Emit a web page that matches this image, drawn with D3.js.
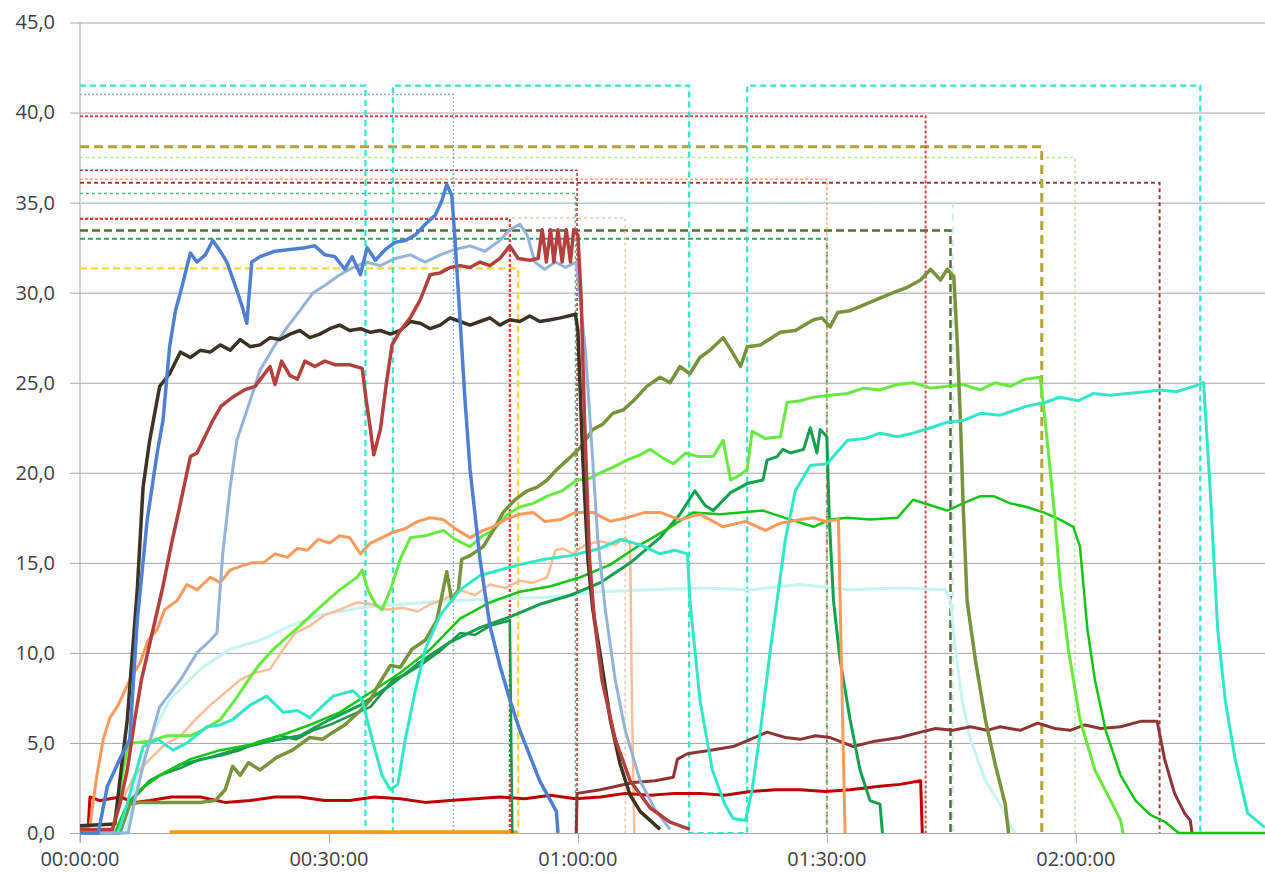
<!DOCTYPE html>
<html>
<head>
<meta charset="utf-8">
<script src="https://cdn.jsdelivr.net/npm/d3@7"></script>
<style>
  body { margin: 0; background: #fff; }
  text { font-family: "Open Sans", sans-serif; }
</style>
</head>
<body>
<svg width="1265" height="875"></svg>
<script>
// time in minutes, value

var yTicks = [0, 5, 10, 15, 20, 25, 30, 35, 40, 45];
var xTicks = [0, 30, 60, 90, 120];
var xTickLabels = ["00:00:00", "00:30:00", "01:00:00", "01:30:00", "02:00:00"];

// set points (dashed)
var spCyan = [[0,41.5],[34.4,41.5],[34.4,0],[37.7,0],[37.7,41.5],[73.4,41.5],[73.4,0],[80.4,0],[80.4,41.5],[135.0,41.5],[135.0,0]];
var spBlue = [[0,41.0],[45.0,41.0],[45.0,0]];
var spRed1 = [[0,39.8],[101.9,39.8],[101.9,0]];
var spOliveYellow = [[0,38.1],[115.9,38.1],[115.9,0]];
var spLightGreen = [[0,37.5],[119.9,37.5],[119.9,0]];
var spMaroonDot = [[0,36.8],[59.9,36.8],[59.9,0]];
var spOrangeDot = [[0,36.3],[90.0,36.3],[90.0,0]];
var spMaroonDash = [[0,36.1],[130.1,36.1],[130.1,0]];
var spGreenDot = [[0,35.5],[59.7,35.5],[59.7,0]];
var spPaleCyan = [[0,35.0],[105.2,35.0],[105.2,0]];
var spRed2 = [[0,34.1],[51.8,34.1],[51.8,0]];
var spPeach = [[0,34.15],[65.7,34.15],[65.7,0]];
var spDarkOlive = [[0,33.45],[104.9,33.45],[104.9,0]];
var spGreenDash = [[0,33.0],[90.0,33.0],[90.0,0]];
var spYellow = [[0,31.35],[52.8,31.35],[52.8,0]];

// measured values (solid)
var sBlack = [[0,0.4],[4.2,0.5],[4.8,2.9],[5.7,6.3],[6.9,13.5],[7.6,19.2],[8.4,21.8],[9.6,24.8],[10.8,25.5],[12.1,26.7],[13.3,26.4],[14.5,26.8],[15.7,26.7],[16.9,27.1],[18.1,26.8],[19.3,27.4],[20.5,27.0],[21.7,27.1],[22.9,27.5],[24.1,27.4],[25.3,27.7],[26.5,27.9],[27.7,27.5],[28.9,27.7],[30.1,28.0],[31.3,28.2],[32.5,27.9],[33.8,28.0],[35.0,27.8],[36.2,27.9],[37.4,27.7],[38.6,27.9],[39.8,28.4],[41.0,28.3],[42.2,28.0],[43.4,28.2],[44.6,28.6],[45.8,28.4],[47.0,28.2],[48.2,28.4],[49.4,28.6],[50.6,28.2],[51.8,28.5],[53.0,28.4],[54.2,28.7],[55.4,28.4],[56.7,28.5],[57.9,28.6],[59.7,28.8],[60.0,27.9],[60.6,20.7],[61.2,15.2],[61.8,12.4],[62.7,9.9],[63.9,6.3],[65.1,3.8],[66.3,2.1],[67.5,1.2],[68.7,0.7],[69.9,0.2]];
var sBlue = [[0,0],[2.2,0],[3.3,2.6],[4.8,4.1],[6.0,5.2],[6.9,11.8],[8.1,17.4],[9.3,21.1],[10.0,22.9],[10.8,27.0],[11.5,29.0],[12.1,30.0],[13.3,32.2],[14.1,31.7],[15.1,32.1],[16.0,32.9],[16.9,32.3],[17.7,31.7],[18.7,30.4],[19.5,29.3],[20.1,28.3],[20.7,31.7],[21.7,32.0],[23.5,32.3],[25.3,32.4],[27.1,32.5],[28.3,32.6],[29.5,32.1],[30.7,32.0],[31.9,31.3],[32.8,32.0],[33.8,31.0],[34.6,32.5],[35.6,31.8],[36.8,32.4],[38.0,32.8],[39.2,32.9],[40.4,33.2],[41.6,33.8],[42.8,34.3],[43.6,35.1],[44.2,36.0],[44.8,35.4],[45.2,32.9],[45.8,28.5],[46.4,24.0],[47.0,20.2],[48.2,15.2],[49.4,11.5],[50.6,9.3],[51.8,7.4],[53.0,5.7],[54.2,4.3],[55.4,2.9],[56.7,1.8],[57.4,1.2],[57.6,0]];
var sRed = [[0,0.2],[3.9,0.2],[4.8,1.6],[5.7,3.5],[6.6,6.3],[7.4,8.5],[8.4,10.5],[10.0,13.7],[11.0,16.0],[12.1,18.3],[13.3,20.9],[14.1,21.1],[16.0,22.9],[17.0,23.7],[18.4,24.2],[19.8,24.6],[21.1,24.8],[22.9,25.9],[23.5,24.9],[24.3,26.2],[25.3,25.4],[26.2,25.2],[27.1,26.2],[28.3,25.9],[29.5,26.2],[30.7,26.0],[32.5,26.0],[34.0,25.8],[34.5,24.0],[35.0,22.4],[35.4,21.0],[36.2,22.4],[36.9,24.9],[37.6,27.1],[38.6,27.9],[39.8,28.6],[41.0,29.6],[42.2,31.0],[43.4,31.1],[44.6,31.4],[45.8,31.5],[47.0,31.4],[48.2,31.7],[49.4,31.5],[50.6,31.9],[51.8,32.6],[52.8,31.9],[54.2,31.8],[55.2,31.9],[55.7,33.5],[56.2,31.7],[56.7,33.5],[57.1,31.7],[57.6,33.5],[58.1,31.7],[58.6,33.5],[59.1,31.7],[59.5,33.5],[60.0,33.2],[60.4,29.6],[60.8,22.9],[61.4,15.2],[62.0,11.8],[62.9,8.5],[64.5,5.2],[66.3,2.9],[68.7,1.4],[71.1,0.6],[73.5,0.2]];
var sLightBlue = [[0,0],[5.8,0],[6.6,1.8],[7.8,4.1],[9.6,7.0],[12.1,8.5],[14.1,10.0],[15.7,10.7],[16.5,11.1],[17.2,15.5],[18.1,19.2],[18.9,21.8],[20.5,24.0],[21.7,25.7],[23.5,27.1],[25.0,28.1],[26.5,29.0],[28.1,30.0],[29.5,30.4],[31.0,30.9],[32.5,31.3],[34.4,31.7],[36.2,31.5],[38.0,31.9],[39.8,32.1],[41.6,31.7],[43.4,32.1],[45.2,32.4],[47.0,32.6],[48.8,32.3],[50.6,32.9],[51.8,33.5],[53.0,33.8],[53.9,33.2],[54.8,31.7],[56.0,31.3],[57.3,31.7],[58.5,31.4],[59.8,31.7],[60.9,26.8],[61.7,21.3],[62.4,16.3],[63.3,12.4],[64.5,8.5],[65.7,5.7],[67.5,2.9],[69.3,1.3],[71.1,0.2]];
var sOrange = [[0,0.2],[1.2,0.4],[2.0,3.1],[2.8,5.2],[3.6,6.4],[4.6,7.1],[5.4,7.9],[6.3,8.8],[7.2,9.4],[8.2,10.7],[9.3,11.3],[10.2,12.4],[11.7,12.9],[12.9,13.8],[14.1,13.5],[15.7,14.2],[16.9,13.9],[18.1,14.6],[19.3,14.8],[20.7,15.0],[22.1,15.0],[23.5,15.5],[25.0,15.3],[26.2,15.8],[27.4,15.7],[28.7,16.3],[30.1,16.1],[31.3,16.5],[32.5,16.4],[33.8,15.5],[35.0,16.1],[36.4,16.4],[37.7,16.7],[39.2,16.9],[40.7,17.3],[42.2,17.5],[43.8,17.4],[45.2,16.9],[47.0,16.4],[48.6,16.8],[49.8,17.0],[51.2,17.4],[53.0,17.7],[54.6,17.8],[56.0,17.3],[57.9,17.4],[59.7,17.8],[61.8,17.8],[63.9,17.3],[65.9,17.5],[68.1,17.8],[69.9,17.8],[72.3,17.4],[74.7,17.7],[77.5,17.0],[80.2,17.3],[82.6,16.8],[84.4,17.2],[86.8,17.4],[88.4,17.5],[89.8,17.3],[91.4,17.4],[91.7,10.7],[92.0,4.1],[92.2,0]];
var sPeach = [[0,0],[3.6,0],[4.8,1.6],[6.6,3.2],[8.4,4.1],[10.2,4.9],[12.1,5.4],[13.9,6.3],[15.7,7.1],[17.5,7.8],[19.3,8.5],[21.1,8.9],[22.9,9.1],[24.5,10.2],[25.9,11.1],[27.7,11.5],[29.5,12.1],[31.3,12.4],[33.4,12.8],[35.2,12.7],[37.0,12.4],[38.9,12.5],[40.7,12.3],[42.2,12.7],[44.0,13.0],[45.8,13.5],[47.6,13.2],[49.4,13.8],[51.2,13.6],[53.0,14.0],[54.6,13.9],[56.3,14.2],[57.3,15.7],[58.2,15.8],[59.4,15.5],[60.9,16.0],[62.7,16.2],[64.5,16.0],[65.7,16.4],[66.3,16.0],[66.5,7.4],[66.8,0]];
var sOlive = [[0,0],[4.8,0],[6.0,1.6],[7.2,1.7],[10.8,1.7],[14.5,1.7],[16.3,1.8],[17.5,2.4],[18.4,3.7],[19.3,3.2],[20.3,3.9],[21.7,3.5],[23.7,4.2],[25.6,4.6],[27.7,5.3],[29.2,5.2],[30.5,5.6],[31.9,6.0],[33.8,6.8],[35.0,7.4],[35.8,8.1],[37.4,9.3],[38.6,9.2],[40.0,10.2],[41.6,10.7],[43.0,11.8],[44.2,14.5],[44.8,12.9],[45.6,13.5],[46.0,15.2],[47.0,15.4],[48.6,15.9],[49.8,16.8],[51.0,17.8],[52.4,18.5],[53.9,19.0],[55.1,19.2],[56.3,19.6],[57.5,20.2],[58.7,20.7],[60.3,21.4],[61.8,22.4],[63.0,22.7],[64.2,23.3],[65.5,23.5],[66.7,24.0],[68.3,24.8],[69.9,25.3],[71.1,25.0],[72.3,25.9],[73.5,25.5],[74.7,26.4],[75.9,26.8],[77.5,27.5],[78.6,26.7],[79.6,25.9],[80.4,27.0],[82.0,27.1],[84.4,27.8],[86.2,27.9],[88.4,28.5],[89.4,28.6],[90.4,28.1],[91.3,28.9],[92.8,29.0],[94.9,29.4],[96.4,29.7],[98.0,30.0],[99.7,30.3],[101.3,30.7],[102.5,31.3],[103.7,30.7],[104.5,31.3],[105.3,30.9],[105.7,27.4],[106.1,22.9],[106.4,18.5],[106.9,12.9],[107.9,9.6],[109.1,6.3],[110.3,3.8],[111.5,1.6],[111.9,0]];
var sLime = [[0,0],[3.9,0],[4.8,2.4],[5.7,4.7],[6.4,5.0],[8.4,5.1],[10.5,5.4],[13.3,5.4],[15.1,5.8],[16.9,6.3],[18.7,7.4],[20.3,8.5],[21.7,9.4],[23.3,10.2],[25.0,10.9],[26.5,11.5],[28.1,12.2],[29.8,12.9],[31.3,13.5],[32.5,13.9],[33.4,14.2],[34.0,14.6],[34.7,13.5],[35.6,12.7],[36.4,12.4],[37.4,13.5],[38.6,15.2],[39.8,16.4],[41.6,16.5],[43.8,16.8],[45.2,16.3],[47.0,15.9],[48.5,16.5],[49.8,16.8],[51.5,17.7],[53.0,18.1],[54.6,18.3],[56.3,18.7],[58.1,19.0],[59.9,19.6],[61.5,19.7],[62.7,20.0],[64.2,20.3],[65.9,20.7],[67.5,21.0],[68.7,21.3],[70.3,20.8],[71.5,20.5],[73.0,21.1],[74.5,20.9],[76.3,20.9],[77.5,21.8],[78.4,19.6],[79.6,19.9],[80.4,20.2],[81.0,22.3],[82.6,21.9],[84.4,22.0],[85.2,23.9],[86.8,24.0],[88.4,24.2],[90.4,24.3],[92.5,24.4],[94.4,24.7],[96.4,24.6],[98.5,24.9],[100.4,25.0],[102.5,24.7],[104.5,24.8],[106.4,24.9],[108.5,24.6],[110.3,25.0],[112.1,24.8],[113.9,25.2],[115.7,25.3],[116.3,22.9],[116.9,20.2],[117.5,17.4],[118.1,14.0],[119.1,10.2],[120.5,6.3],[122.3,3.5],[124.2,1.8],[125.4,0.7],[125.7,0]];
var sGreen = [[0,0],[4.2,0],[5.4,1.3],[7.2,2.4],[9.6,3.2],[13.3,4.1],[16.9,4.6],[20.5,4.9],[24.1,5.4],[27.7,6.0],[31.3,6.7],[35.0,7.8],[38.6,8.9],[42.2,10.2],[45.8,11.9],[49.4,12.8],[53.0,13.4],[56.7,13.7],[60.3,14.2],[63.9,14.9],[67.5,16.0],[70.5,16.8],[73.9,17.8],[77.1,17.7],[79.6,17.8],[82.3,17.9],[85.6,17.4],[88.4,17.0],[90.4,17.4],[92.5,17.5],[95.2,17.4],[98.5,17.5],[100.4,18.5],[102.5,18.2],[104.5,17.9],[106.4,18.3],[108.5,18.7],[110.1,18.7],[112.1,18.3],[114.1,18.1],[116.1,17.8],[118.1,17.4],[119.7,17.0],[120.5,15.9],[121.4,11.3],[122.3,8.5],[123.6,5.7],[125.4,3.2],[127.2,1.8],[129.0,1.0],[130.8,0.6],[132.4,0],[142.8,0]];
var sSeaGreen = [[0,0],[4.6,0],[5.8,1.6],[8.4,2.9],[12.1,3.8],[15.7,4.2],[19.3,4.7],[22.9,5.1],[26.5,5.4],[30.1,6.3],[33.8,7.1],[37.4,8.2],[41.0,9.5],[44.6,10.6],[48.2,11.4],[51.8,12.0],[55.4,12.7],[59.1,13.2],[62.7,13.9],[66.3,15.0],[69.9,16.4],[72.3,17.7],[74.1,19.0],[75.3,18.2],[76.3,17.9],[78.4,18.9],[80.4,19.4],[82.3,19.6],[82.8,20.7],[84.0,20.9],[84.7,21.3],[85.6,21.1],[87.2,21.3],[88.0,22.5],[88.8,21.1],[89.2,22.4],[90.0,22.0],[90.3,17.4],[90.8,12.9],[91.6,9.6],[92.8,6.3],[94.0,3.5],[95.2,1.8],[96.4,1.6],[96.7,0]];
var sDarkGreen = [[0,0],[4.6,0],[6.0,1.8],[7.8,2.6],[9.6,3.2],[12.1,3.6],[14.5,4.1],[17.0,4.3],[19.3,4.6],[21.7,5.1],[24.1,5.4],[26.0,5.2],[28.1,5.7],[30.1,6.0],[32.5,6.5],[35.0,7.0],[37.7,8.5],[39.2,8.8],[41.0,9.3],[43.4,10.1],[45.8,11.1],[47.6,11.0],[49.4,11.5],[51.8,11.8],[52.1,0]];
var sCyan = [[0,0],[4.6,0],[5.8,1.8],[7.6,4.8],[9.4,5.2],[11.2,4.6],[12.9,5.0],[15.3,5.9],[16.9,6.0],[18.4,6.3],[20.5,7.1],[22.5,7.6],[24.5,6.7],[26.2,6.8],[27.7,6.4],[30.5,7.6],[32.9,7.9],[34.0,7.4],[35.2,5.2],[36.4,3.2],[37.4,2.4],[38.3,2.7],[39.2,5.2],[40.4,7.9],[41.6,10.2],[43.4,12.1],[45.8,13.5],[48.2,14.3],[50.6,14.6],[53.0,14.9],[56.0,15.2],[59.1,15.4],[62.7,15.8],[65.1,16.3],[67.5,16.0],[69.9,15.5],[71.7,15.7],[73.2,15.5],[73.5,12.9],[74.7,7.4],[76.2,3.5],[77.7,1.6],[78.7,0.8],[80.2,0.7],[81.0,2.4],[82.0,5.7],[83.2,10.2],[84.0,12.9],[85.0,16.3],[86.2,19.0],[88.0,20.4],[90.0,20.5],[92.5,21.8],[94.6,21.9],[96.4,22.2],[98.5,22.0],[100.4,22.2],[102.5,22.5],[104.5,22.8],[106.4,22.9],[108.5,23.3],[110.9,23.2],[114.1,23.7],[116.3,23.9],[118.1,24.2],[120.3,24.0],[122.1,24.4],[124.2,24.3],[126.2,24.4],[128.4,24.5],[130.2,24.6],[132.1,24.5],[134.2,24.8],[135.4,25.0],[136.2,19.0],[137.1,11.3],[138.0,7.4],[139.2,4.1],[140.7,1.1],[142.8,0.3]];
var sPaleCyan = [[0,0],[5.4,0],[6.6,2.4],[8.4,5.2],[10.8,7.4],[14.5,9.1],[18.1,10.2],[21.7,10.7],[25.3,11.5],[28.9,12.1],[33.8,12.5],[38.6,12.7],[44.6,12.9],[50.6,13.0],[56.7,13.1],[62.7,13.4],[68.7,13.5],[74.7,13.6],[80.8,13.5],[86.8,13.8],[92.8,13.5],[98.8,13.6],[104.3,13.5],[104.9,12.9],[105.5,10.2],[106.3,7.4],[107.3,5.2],[109.1,2.9],[110.9,1.6],[112.1,0.4],[112.7,0]];
var sDarkRed = [[0,0.4],[1.0,0.4],[1.2,2.0],[2.4,1.8],[4.8,2.0],[6.6,1.7],[8.4,1.8],[11.0,2.0],[14.5,2.0],[17.5,1.7],[20.5,1.8],[23.5,2.0],[26.5,2.0],[29.5,1.8],[32.5,1.8],[35.5,2.0],[38.6,1.9],[41.6,1.7],[44.6,1.8],[47.6,1.9],[50.6,2.0],[53.6,1.9],[56.7,2.1],[59.7,1.9],[62.7,2.0],[65.7,2.2],[68.7,2.1],[71.7,2.2],[74.7,2.2],[77.7,2.1],[80.8,2.3],[83.8,2.4],[86.8,2.4],[89.8,2.3],[92.8,2.4],[96.4,2.6],[98.8,2.7],[101.3,2.9],[101.5,0]];
var sMaroon = [[59.8,0],[59.9,2.2],[62.7,2.4],[66.7,2.8],[69.3,2.9],[71.5,3.1],[72.0,4.1],[73.2,4.4],[76.0,4.6],[78.7,4.8],[80.8,5.2],[82.8,5.6],[85.0,5.3],[86.8,5.2],[88.6,5.4],[90.4,5.3],[93.2,4.8],[95.8,5.1],[98.8,5.3],[101.3,5.6],[103.1,5.8],[105.2,5.7],[107.3,5.9],[109.3,5.7],[110.9,5.9],[113.3,5.7],[115.4,6.1],[117.5,5.8],[119.3,5.7],[121.1,6.0],[123.0,5.8],[125.4,5.9],[127.8,6.2],[129.8,6.2],[130.7,4.1],[131.9,2.2],[133.1,1.1],[133.8,0.7],[134.0,0]];
var sOrangeFlat = [[10.8,0.05],[52.7,0.05]];

var svg = d3.select("svg"),
    width = +svg.attr("width"),
    height = +svg.attr("height");

var x = d3.scaleLinear().domain([0, 142.8]).range([80, 1265]);
var y = d3.scaleLinear().domain([0, 45]).range([833, 22.5]);

var fmt = d3.formatLocale({decimal: ",", thousands: ".", grouping: [3], currency: ["", ""]}).format(".1f");

// gridlines
svg.append("g")
    .attr("transform", "translate(80,0)")
    .call(d3.axisLeft(y).tickValues(yTicks).tickSize(-(1265 - 80)).tickFormat(""))
    .call(function(g){ g.select(".domain").remove(); })
    .selectAll("line").attr("stroke", "#a6a6a6");

// y axis
var yAxis = svg.append("g")
    .attr("transform", "translate(80,0)")
    .call(d3.axisLeft(y).tickValues(yTicks).tickSize(10).tickPadding(15).tickFormat(fmt));
yAxis.select(".domain").attr("stroke", "#a6a6a6").attr("d", "M0,22.5V843");
yAxis.selectAll("line").attr("stroke", "#a6a6a6");
yAxis.selectAll("text").attr("fill", "#404040").style("font-size", "20px");

// x axis
var xAxis = svg.append("g")
    .attr("transform", "translate(0,833)")
    .call(d3.axisBottom(x).tickValues(xTicks).tickSize(10).tickFormat(""));
xAxis.select(".domain").attr("stroke", "#a6a6a6");
xAxis.selectAll("line").attr("stroke", "#a6a6a6");

svg.append("g")
  .selectAll("text")
  .data(xTicks)
  .enter()
  .append("text")
    .attr("x", function(d){ return x(d) })
    .attr("y", 866)
    .attr("text-anchor", "middle")
    .attr("fill", "#404040")
    .style("font-size", "20px")
    .text(function(d, i){ return xTickLabels[i] });

var line = d3.line()
    .x(function(d){ return x(d[0]) })
    .y(function(d){ return y(d[1]) });

// set point lines
var dashed = [
  {d: spYellow,      c: "#ffd23f", w: 2.2, dash: "7,4"},
  {d: spGreenDash,   c: "#2fa65a", w: 2,   dash: "5,3"},
  {d: spDarkOlive,   c: "#5a6a2c", w: 2.5, dash: "8,4"},
  {d: spPeach,       c: "#f8c4a8", w: 1.5, dash: "3,3"},
  {d: spRed2,        c: "#e03c3c", w: 2.2, dash: "3,2"},
  {d: spPaleCyan,    c: "#bfe9e6", w: 1.5, dash: "7,6"},
  {d: spGreenDot,    c: "#55b87a", w: 1.5, dash: "3,3"},
  {d: spMaroonDash,  c: "#9b3c3a", w: 2,   dash: "4,3"},
  {d: spOrangeDot,   c: "#f2a77e", w: 1.5, dash: "3,2"},
  {d: spMaroonDot,   c: "#a0413f", w: 1.5, dash: "3,2"},
  {d: spLightGreen,  c: "#b2ea98", w: 1.5, dash: "3,3"},
  {d: spOliveYellow, c: "#b3a535", w: 3,   dash: "9,5"},
  {d: spRed1,        c: "#d24848", w: 2,   dash: "3,2"},
  {d: spBlue,        c: "#8ea8d8", w: 1.5, dash: "2,2"},
  {d: spCyan,        c: "#33e6c6", w: 2.2, dash: "6,4"}
];

svg.append("g")
  .selectAll("path")
  .data(dashed)
  .enter()
  .append("path")
    .attr("d", function(s){ return line(s.d) })
    .attr("fill", "none")
    .attr("stroke", function(s){ return s.c })
    .attr("stroke-width", function(s){ return s.w })
    .attr("stroke-dasharray", function(s){ return s.dash });

// measured lines
var solid = [
  {d: sOrangeFlat, c: "#ff9a10", w: 3.5},
  {d: sPaleCyan,   c: "#c6f4f0", w: 3},
  {d: sPeach,      c: "#fbbd96", w: 2.5},
  {d: sDarkRed,    c: "#c00000", w: 3},
  {d: sMaroon,     c: "#8e3434", w: 3},
  {d: sDarkGreen,  c: "#1e9448", w: 2.5},
  {d: sSeaGreen,   c: "#14a050", w: 3},
  {d: sGreen,      c: "#14c414", w: 2.5},
  {d: sLime,       c: "#66ea3e", w: 3},
  {d: sOlive,      c: "#77933c", w: 3.5},
  {d: sCyan,       c: "#30e8c6", w: 3},
  {d: sOrange,     c: "#f79a5c", w: 3},
  {d: sLightBlue,  c: "#95b3d7", w: 3},
  {d: sBlack,      c: "#3a3424", w: 3.5},
  {d: sRed,        c: "#b3403d", w: 3.5},
  {d: sBlue,       c: "#4d80d0", w: 3.5}
];

svg.append("g")
  .selectAll("path")
  .data(solid)
  .enter()
  .append("path")
    .attr("d", function(s){ return line(s.d) })
    .attr("fill", "none")
    .attr("stroke", function(s){ return s.c })
    .attr("stroke-width", function(s){ return s.w })
    .attr("stroke-linejoin", "round");
</script>
</body>
</html>
